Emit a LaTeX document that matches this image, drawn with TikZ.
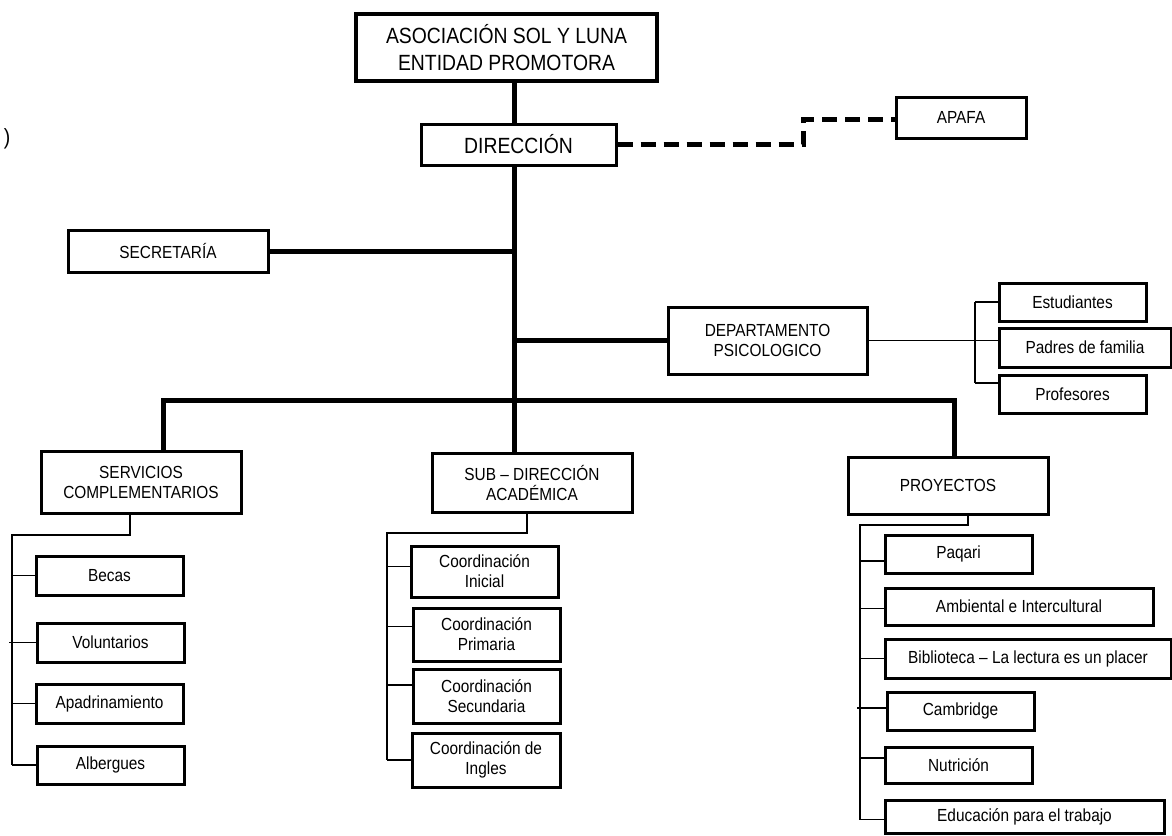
\documentclass[tikz,border=0pt]{standalone}
\usepackage{fontspec}
\setmainfont{Liberation Sans}[FakeStretch=0.88]
\begin{document}
\begin{tikzpicture}[x=1pt,y=-1pt,
  box/.style={draw, line width=3pt, inner sep=0pt, align=center, fill=white,
    font=\fontsize{17.5}{20}\selectfont},
  bigbox/.style={box, font=\fontsize{22}{27}\selectfont},
  trunkline/.style={line width=5pt},
  fineline/.style={line width=1.5pt},
  dashline/.style={line width=5pt, dash pattern=on 15pt off 8pt}]
\useasboundingbox (0,0) rectangle (1172,835);

% nodes
\node[bigbox, line width=3.5pt, minimum width=301pt, minimum height=67pt] (top) at (506.5,47.5) {ASOCIACIÓN SOL Y LUNA\\ENTIDAD PROMOTORA};
\node[bigbox, minimum width=195pt, minimum height=41pt] (dir) at (518.5,144.5) {DIRECCIÓN};
\node[box, minimum width=130pt, minimum height=41pt] (apafa) at (961,117.5) {APAFA};
\node[box, minimum width=200pt, minimum height=42pt] (sec) at (168,251) {SECRETARÍA};
\node[box, minimum width=199pt, minimum height=67pt] (dept) at (767.5,340.5) {DEPARTAMENTO\\PSICOLOGICO};
\node[box, minimum width=147pt, minimum height=38pt] (est) at (1072.5,302) {Estudiantes};
\node[box, minimum width=172pt, minimum height=39pt] (pad) at (1085,347.5) {Padres de familia};
\node[box, minimum width=147pt, minimum height=38pt] (prof) at (1072.5,394) {Profesores};

\node[box, minimum width=200pt, minimum height=62pt] (serv) at (141,482) {SERVICIOS\\COMPLEMENTARIOS};
\node[box, minimum width=200pt, minimum height=59pt] (sub) at (532,482.5) {SUB – DIRECCIÓN\\ACADÉMICA};
\node[box, minimum width=200pt, minimum height=57pt] (proy) at (948,485.5) {PROYECTOS};

\node[box, minimum width=147pt, minimum height=39pt] (becas) at (109.5,575.5) {Becas};
\node[box, minimum width=147pt, minimum height=39pt] (vol) at (110.5,642.5) {Voluntarios};
\node[box, minimum width=147pt, minimum height=39pt] (apad) at (109.5,703.5) {Apadrinamiento};
\node[box, minimum width=147pt, minimum height=38pt] (alb) at (110.5,765) {Albergues};

\node[box, minimum width=147pt, minimum height=51pt] (ci) at (484.5,571.5) {Coordinación\\Inicial};
\node[box, minimum width=147pt, minimum height=53pt] (cp) at (486.5,634.5) {Coordinación\\Primaria};
\node[box, minimum width=147pt, minimum height=54pt] (cs) at (486.5,696) {Coordinación\\Secundaria};
\node[box, minimum width=148pt, minimum height=54pt] (cin) at (486,760) {Coordinación de\\Ingles};

\node[box, minimum width=147pt, minimum height=38pt] (paq) at (958.5,554) {Paqari};
\node[box, minimum width=268pt, minimum height=37pt] (amb) at (1019,606.5) {Ambiental e Intercultural};
\node[box, minimum width=286pt, minimum height=39pt] (bib) at (1028,658.5) {Biblioteca – La lectura es un placer};
\node[box, minimum width=147pt, minimum height=38pt] (cam) at (960.5,711) {Cambridge};
\node[box, minimum width=147pt, minimum height=36pt] (nut) at (958.5,765) {Nutrición};
\node[box, minimum width=279pt, minimum height=33pt] (edu) at (1024.5,816.5) {Educación para el trabajo};

\node[font=\fontsize{22}{24}\selectfont, inner sep=0pt] (paren) at (7,139) {)};

% coordinates
\coordinate (tx) at (514,0);
\coordinate (bl) at (163,400);
\coordinate (br) at (954,400);
\coordinate (dk) at (803,119);
\coordinate (dbx) at (975,0);
\coordinate (s1) at (130,535);
\coordinate (sx) at (12,0);
\coordinate (a1) at (527,533);
\coordinate (ax) at (387,0);
\coordinate (p1) at (968,525);
\coordinate (px) at (860,0);

% main connectors
\draw[trunkline] (tx |- top.south) -- (tx |- dir.north);
\draw[trunkline] (tx |- dir.south) -- (tx |- sub.north);
\draw[trunkline] (sec.east) -- (sec.east -| tx);
\draw[trunkline] (dept.west -| tx) -- (dept.west);
\draw[trunkline] (bl |- serv.north) -- (bl) -- (br) -- (br |- proy.north);
\draw[dashline] (dir.east) -| (dk) -- (apafa.west |- dk);

% departamento
\draw[fineline] (dept.east) -- (dept.east -| pad.west);
\draw[fineline] (est.west -| dbx) -- ([yshift=11pt]prof.west -| dbx);
\draw[fineline] (est.west -| dbx) -- (est.west);
\draw[fineline] ([yshift=11pt]prof.west -| dbx) -- ([yshift=11pt]prof.west);

% servicios
\draw[fineline] (s1 |- serv.south) -- (s1) -- (s1 -| sx) -- (sx |- alb.west);
\draw[fineline] (sx |- becas.west) -- (becas.west);
\draw[fineline] ([xshift=-3pt]sx |- vol.west) -- (vol.west);
\draw[fineline] (sx |- apad.west) -- (apad.west);
\draw[fineline] (sx |- alb.west) -- (alb.west);

% sub-direccion
\draw[fineline] (a1 |- sub.south) -- (a1) -- (a1 -| ax) -- (ax |- cin.west);
\draw[fineline] ([yshift=5pt]ci.west -| ax) -- ([yshift=5pt]ci.west);
\draw[fineline] ([yshift=8pt]cp.west -| ax) -- ([yshift=8pt]cp.west);
\draw[fineline] ([yshift=11pt]cs.west -| ax) -- ([yshift=11pt]cs.west);
\draw[fineline] (cin.west -| ax) -- (cin.west);

% proyectos
\draw[fineline] (p1 |- proy.south) -- (p1) -- (p1 -| px) -- ([yshift=-3pt]px |- edu.west);
\draw[fineline] ([yshift=-7pt]px |- paq.west) -- ([yshift=-7pt]paq.west);
\draw[fineline] ([yshift=-2pt]px |- amb.west) -- ([yshift=-2pt]amb.west);
\draw[fineline] (px |- bib.west) -- (bib.west);
\draw[fineline] ([yshift=3pt,xshift=-3pt]px |- cam.west) -- ([yshift=3pt]cam.west);
\draw[fineline] ([yshift=7pt]px |- nut.west) -- ([yshift=7pt]nut.west);
\draw[fineline] ([yshift=-3pt]px |- edu.west) -- ([yshift=-3pt]edu.west);
\end{tikzpicture}
\end{document}
